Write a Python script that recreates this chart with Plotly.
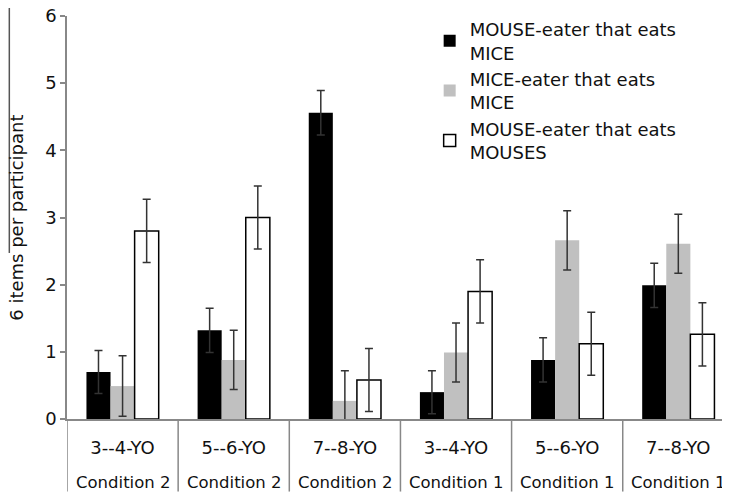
import plotly.graph_objects as go

ages = ["3--4-YO", "5--6-YO", "7--8-YO", "3--4-YO", "5--6-YO", "7--8-YO"]
conditions = ["Condition 2", "Condition 2", "Condition 2", "Condition 1", "Condition 1", "Condition 1"]

series_names = [
    "MOUSE-eater that eats<br>MICE",
    "MICE-eater that eats<br>MICE",
    "MOUSE-eater that eats<br>MOUSES",
]
mouse_eater_mice = [0.70, 1.32, 4.56, 0.40, 0.88, 1.99]
mouse_eater_mice_err = [0.32, 0.33, 0.33, 0.32, 0.33, 0.33]
mice_eater_mice = [0.49, 0.88, 0.27, 0.99, 2.66, 2.61]
mice_eater_mice_err = [0.45, 0.44, 0.45, 0.44, 0.44, 0.44]
mouse_eater_mouses = [2.80, 3.00, 0.58, 1.90, 1.12, 1.26]
mouse_eater_mouses_err = [0.47, 0.47, 0.47, 0.47, 0.47, 0.47]

y_title = "6 items per participant"
y_ticks = [0, 1, 2, 3, 4, 5, 6]

FONT = "DejaVu Sans"
FS = 18
TXT = "#111111"
xpos = list(range(len(ages)))

fig = go.Figure()
styles = [
    dict(color="#000000", line=dict(color="#000000", width=0)),
    dict(color="#c0c0c0", line=dict(color="#c0c0c0", width=0)),
    dict(color="#ffffff", line=dict(color="#000000", width=1.5)),
]
vals = [mouse_eater_mice, mice_eater_mice, mouse_eater_mouses]
errs = [mouse_eater_mice_err, mice_eater_mice_err, mouse_eater_mouses_err]
for name, v, e, st in zip(series_names, vals, errs, styles):
    fig.add_trace(go.Bar(
        x=xpos, y=v, name=name, marker=st,
        error_y=dict(type="data", array=e, visible=True, color="#333333", thickness=1.5, width=4),
    ))

shapes = []
for i in range(len(ages) + 1):
    shapes.append(dict(type="line", xref="x", yref="paper", x0=i - 0.5, x1=i - 0.5,
                       y0=0, y1=-0.18, line=dict(color="#888888", width=1.5)))
shapes.append(dict(type="line", xref="paper", yref="paper", x0=-0.087, x1=-0.087,
                   y0=1.02, y1=0.412, line=dict(color="#555555", width=1.5)))

annotations = []
for i, c in enumerate(conditions):
    annotations.append(dict(x=i, y=-0.157, xref="x", yref="paper", text=c, showarrow=False,
                            xanchor="center", yanchor="middle",
                            font=dict(family=FONT, size=16.5, color=TXT)))
annotations.append(dict(x=-0.0765, y=0.5, xref="paper", yref="paper", text=y_title,
                        textangle=-90, showarrow=False, xanchor="center", yanchor="middle",
                        font=dict(family=FONT, size=FS, color=TXT)))

fig.update_layout(
    width=730, height=492,
    margin=dict(l=58.7, r=8, t=7.5, b=80.5, autoexpand=False),
    paper_bgcolor="white", plot_bgcolor="white",
    barmode="group", bargap=0.35, bargroupgap=0,
    font=dict(family=FONT, size=FS, color=TXT),
    showlegend=True,
    legend=dict(x=0.547, y=1.0126, xanchor="left", yanchor="top",
                font=dict(family=FONT, size=FS, color=TXT),
                bgcolor="rgba(0,0,0,0)", tracegroupgap=0),
    shapes=shapes,
    annotations=annotations,
    xaxis=dict(tickmode="array", tickvals=xpos, ticktext=ages, range=[-0.5, 5.465],
               showline=True, linecolor="#888888", linewidth=1.5, ticks="",
               showgrid=False, zeroline=False, ticklabelstandoff=12, automargin=False,
               tickfont=dict(family=FONT, size=FS, color=TXT)),
    yaxis=dict(range=[0, 6], tickvals=y_ticks, showline=True, linecolor="#888888", linewidth=1.5,
               ticks="outside", ticklen=5, tickcolor="#888888", tickwidth=1.5,
               showgrid=False, zeroline=False, automargin=False, ticklabeloverflow="allow",
               tickfont=dict(family=FONT, size=FS, color=TXT)),
)

fig.write_html("out.html")
